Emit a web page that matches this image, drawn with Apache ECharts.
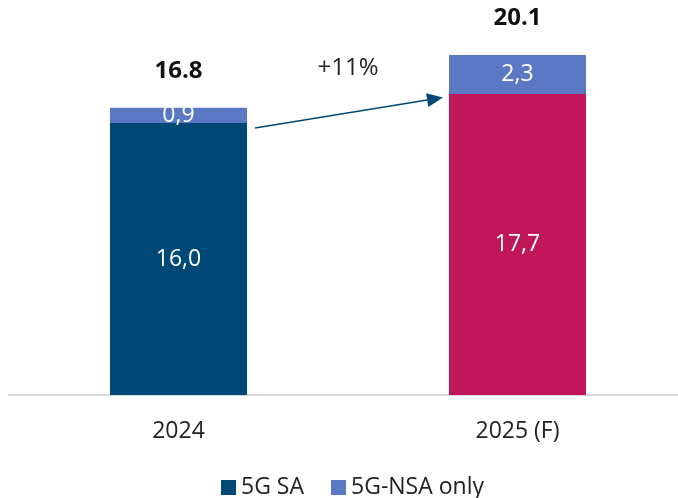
<!DOCTYPE html>
<html><head><meta charset="utf-8">
<script src="https://cdn.jsdelivr.net/npm/echarts@6/dist/echarts.min.js"></script>
<style>html,body{margin:0;padding:0;background:#fff}#c{width:678px;height:498px}</style>
</head><body><div id="c"></div>
<script>
const categories = ['2024', '2025 (F)'];
const sa = [16.0, 17.7];
const nsa = [0.9, 2.3];
const totals = ['16.8', '20.1'];
const growthLabel = '+11%';
const arrowFrom = 15.7, arrowTo = 17.5;

const font = 'Open Sans';
const fmt = p => String(p.value.toFixed(1)).replace('.', ',');
const chart = echarts.init(document.getElementById('c'));
chart.setOption({
  animation: false,
  textStyle: { fontFamily: font },
  grid: { left: 9, width: 678, top: 4, bottom: 103, outerBoundsMode: 'none', containLabel: false },
  legend: {
    top: 471, left: 216, data: ['5G SA', '5G-NSA only'],
    icon: 'rect', itemWidth: 15, itemHeight: 15, itemGap: 27,
    textStyle: { fontFamily: font, fontSize: 23, color: '#222' }
  },
  xAxis: {
    type: 'category', data: categories,
    axisLine: { lineStyle: { color: '#d9d9d9', width: 2 } },
    axisTick: { show: false },
    axisLabel: { fontFamily: font, fontSize: 23, color: '#222', margin: 25 }
  },
  yAxis: { type: 'value', min: 0, max: 23, show: false, splitLine: { show: false } },
  series: [
    { name: '5G SA', type: 'bar', stack: 't', barWidth: 137,
      itemStyle: { color: '#004876' },
      data: sa.map((v, i) => i === 1 ? { value: v, itemStyle: { color: '#c0175a' } } : v),
      label: { show: true, position: 'inside', color: '#fff', fontSize: 23, fontFamily: font, formatter: fmt } },
    { name: '5G-NSA only', type: 'bar', stack: 't', barWidth: 137,
      itemStyle: { color: '#5b78c4' }, data: nsa,
      label: { show: true, position: 'inside', color: '#fff', fontSize: 23, fontFamily: font, formatter: fmt } },
    { name: 'total', type: 'bar', stack: 't', barWidth: 137, data: [0, 0],
      itemStyle: { color: 'transparent' },
      label: { show: true, position: 'top', distance: 25, color: '#111', fontWeight: 'bold', fontSize: 24, fontFamily: font,
        formatter: p => totals[p.dataIndex] } }
  ]
});
const p0 = chart.convertToPixel({ gridIndex: 0 }, [0, arrowFrom]);
const p1 = chart.convertToPixel({ gridIndex: 0 }, [1, arrowTo]);
const half = 68.5;
const x0 = p0[0] + half + 8, y0 = p0[1];
const x1 = p1[0] - half - 6, y1 = p1[1];
const ang = Math.atan2(y1 - y0, x1 - x0);
const L = 16, W = 7;
const bx = x1 - L * Math.cos(ang), by = y1 - L * Math.sin(ang);
const nx = -Math.sin(ang), ny = Math.cos(ang);
const mid = chart.convertToPixel({ gridIndex: 0 }, [0, 19.2]);
chart.setOption({
  graphic: [
    { type: 'line', shape: { x1: x0, y1: y0, x2: bx, y2: by }, style: { stroke: '#004876', lineWidth: 1.5 } },
    { type: 'polygon', shape: { points: [[x1, y1], [bx + nx * W, by + ny * W], [bx - nx * W, by - ny * W]] }, style: { fill: '#004876' } },
    { type: 'text', x: (p0[0] + p1[0]) / 2, y: mid[1], style: { text: growthLabel, fontFamily: font, fontSize: 24, fill: '#222', align: 'center', verticalAlign: 'middle' } }
  ]
});
</script></body></html>
